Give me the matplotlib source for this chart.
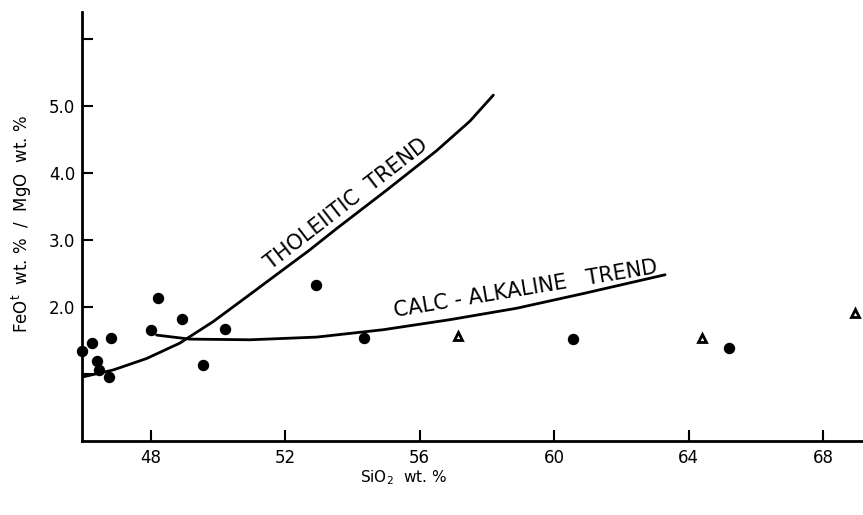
import matplotlib
matplotlib.use("Agg")
import matplotlib.pyplot as plt

# Data
circle_sio2 = [45.96, 46.26, 46.40, 46.46, 46.76, 46.82, 48.00, 48.20, 48.94, 49.56, 50.20,
               52.91, 54.33, 60.57, 65.20]
circle_ratio = [1.34, 1.46, 1.20, 1.06, 0.95, 1.53, 1.66, 2.13, 1.82, 1.13, 1.67,
                2.33, 1.54, 1.52, 1.39]

tri_sio2 = [57.14, 64.39, 68.96]
tri_ratio = [1.56, 1.53, 1.91]

thol_sio2 = [45.92, 46.88, 47.87, 48.86, 49.85, 50.85, 51.84, 52.70, 53.53, 55.01, 56.50, 57.49, 58.19]
thol_ratio = [0.95, 1.06, 1.23, 1.46, 1.78, 2.15, 2.52, 2.84, 3.17, 3.74, 4.33, 4.77, 5.16]

calc_sio2 = [48.17, 49.16, 50.95, 52.93, 54.91, 56.90, 58.88, 60.87, 63.30]
calc_ratio = [1.58, 1.52, 1.51, 1.55, 1.66, 1.81, 1.98, 2.20, 2.48]

xticks = [48, 52, 56, 60, 64, 68]
yticks = [1, 2, 3, 4, 5, 6]
ytick_labels = ["", "2.0", "3.0", "4.0", "5.0", ""]

fig = plt.figure(figsize=(8.63, 5.15), dpi=100)
ax = fig.add_axes([0.095, 0.1437, 0.905, 0.833])

ax.plot(thol_sio2, thol_ratio, color="black", lw=2.0, solid_capstyle="round",
        solid_joinstyle="round")
ax.plot(calc_sio2, calc_ratio, color="black", lw=2.0, solid_capstyle="round",
        solid_joinstyle="round")

ax.plot(circle_sio2, circle_ratio, "o", color="black", ms=7.2, clip_on=False)
ax.plot(tri_sio2, tri_ratio, "^", mfc="white", mec="black", mew=2.0, ms=6, clip_on=False)

ax.set_xlim(45.95, 69.19)
ax.set_ylim(0, 6.40)

for s in ["top", "right"]:
    ax.spines[s].set_visible(False)
for s in ["left", "bottom"]:
    ax.spines[s].set_linewidth(2.0)

ax.set_xticks(xticks)
ax.set_xticklabels([str(t) for t in xticks])
ax.set_yticks(yticks)
ax.set_yticklabels(ytick_labels)
ax.tick_params(axis="both", direction="in", length=8, width=1.5, labelsize=12, pad=6)
ax.tick_params(axis="y", pad=5)

ax.text(53.94, 3.46, "THOLEIITIC  TREND", rotation=37.8, ha="center", va="baseline",
        fontsize=15, rotation_mode="anchor")
ax.text(59.19, 2.18, "CALC - ALKALINE   TREND", rotation=9.5, ha="center", va="baseline",
        fontsize=15, rotation_mode="anchor")

fig.text(0.467, 0.072, r"SiO$_2$  wt. %", fontsize=11, ha="center", va="center")
fig.text(0.0255, 0.565, r"FeO$^\mathrm{t}$  wt. %  /  MgO  wt. %", fontsize=12,
         rotation=90, ha="center", va="center")

fig.savefig("out.png", dpi=100)
